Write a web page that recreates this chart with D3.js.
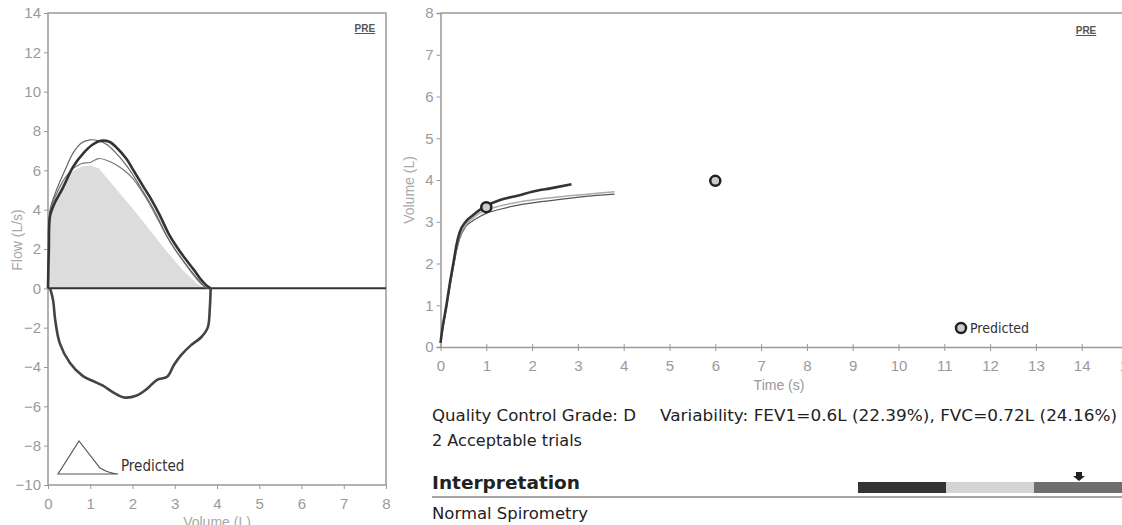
<!DOCTYPE html>
<html>
<head>
<meta charset="utf-8">
<script src="https://cdn.jsdelivr.net/npm/d3@7/dist/d3.min.js"></script>
<style>
  body { margin: 0; background: #fff; }
  svg { display: block; }
  .tick text { font-family: "Liberation Sans Narrow", "Liberation Sans", Arial, sans-serif; font-size: 15px; fill: #9a9a9a; }
  .tick line { stroke: #999; }
  .domain { stroke: #999; }
  .info { font-family: "DejaVu Sans", sans-serif; fill: #222; }
</style>
</head>
<body>
<div id="chart"></div>
<script>
// ---- flow / volume loop, [volume L, flow L/s] ----
var loopBest = [[0,0],[0.02,2],[0.05,3.7],[0.15,4.3],[0.35,5.1],[0.6,6.2],[0.85,6.9],[1.05,7.3],[1.25,7.5],[1.45,7.45],[1.65,7.1],[1.85,6.6],[2.05,5.9],[2.25,5.2],[2.45,4.5],[2.65,3.7],[2.85,2.8],[3.05,2.1],[3.25,1.5],[3.45,0.95],[3.6,0.5],[3.75,0.15],[3.85,0]];
var loopTrial2 = [[0,0],[0.02,2.5],[0.05,4.0],[0.2,5.0],[0.4,6.0],[0.6,6.9],[0.8,7.4],[1.0,7.55],[1.2,7.5],[1.4,7.3],[1.6,6.9],[1.8,6.4],[2.0,5.8],[2.2,5.1],[2.4,4.4],[2.6,3.6],[2.8,2.7],[3.0,2.0],[3.2,1.4],[3.4,0.85],[3.55,0.45],[3.7,0.1],[3.75,0]];
var loopTrial3 = [[0,0],[0.02,2.5],[0.05,3.9],[0.2,4.8],[0.4,5.6],[0.6,6.1],[0.8,6.35],[1.0,6.4],[1.2,6.6],[1.4,6.5],[1.6,6.3],[1.8,6.0],[2.0,5.6],[2.2,5.0],[2.4,4.3],[2.6,3.5],[2.8,2.7],[3.0,2.0],[3.2,1.4],[3.4,0.8],[3.55,0.4],[3.7,0.1],[3.8,0]];
var loopPredicted = [[0,0],[0.02,3],[0.1,4.2],[0.3,5.2],[0.55,5.9],[0.8,6.2],[1.0,6.25],[1.2,6.1],[2.1,3.8],[2.8,1.9],[3.2,0.9],[3.5,0.3],[3.7,0]];
var loopInsp = [[3.85,0],[3.83,-1.0],[3.78,-2.0],[3.62,-2.5],[3.38,-2.9],[3.15,-3.4],[2.98,-3.9],[2.82,-4.5],[2.58,-4.65],[2.35,-5.1],[2.1,-5.45],[1.8,-5.55],[1.55,-5.3],[1.3,-4.95],[1.05,-4.7],[0.82,-4.45],[0.52,-3.8],[0.28,-2.8],[0.17,-1.6],[0.12,-0.6],[0.05,0]];
var flowTicks = [-10,-8,-6,-4,-2,0,2,4,6,8,10,12,14];
var volTicks = [0,1,2,3,4,5,6,7,8];

// ---- volume / time, [time s, volume L] ----
var timeBest = [[0,0.1],[0.05,0.5],[0.13,1.0],[0.2,1.5],[0.28,2.0],[0.35,2.45],[0.42,2.75],[0.55,3.0],[0.7,3.15],[0.85,3.28],[1.0,3.38],[1.3,3.52],[1.7,3.63],[2.0,3.72],[2.4,3.8],[2.86,3.9]];
var timeTrial2 = [[0,0.1],[0.05,0.45],[0.13,0.95],[0.2,1.45],[0.28,1.95],[0.35,2.35],[0.42,2.65],[0.55,2.92],[0.7,3.08],[0.85,3.2],[1.0,3.28],[1.3,3.38],[1.7,3.47],[2.2,3.55],[2.8,3.62],[3.3,3.67],[3.8,3.72]];
var timeTrial3 = [[0,0.1],[0.05,0.45],[0.13,0.95],[0.2,1.4],[0.28,1.9],[0.35,2.3],[0.42,2.6],[0.55,2.88],[0.7,3.02],[0.85,3.12],[1.0,3.2],[1.3,3.3],[1.7,3.4],[2.2,3.48],[2.8,3.56],[3.3,3.62],[3.8,3.66]];
var predictedPoints = [[1,3.35],[6,3.98]];
var timeTicks = [0,1,2,3,4,5,6,7,8,9,10,11,12,13,14,15];
var volumeTicks = [0,1,2,3,4,5,6,7,8];

var infoLine1 = "Quality Control Grade: D";
var infoLine1b = "Variability: FEV1=0.6L (22.39%), FVC=0.72L (24.16%)";
var infoLine2 = "2 Acceptable trials";
var interpTitle = "Interpretation";
var interpText = "Normal Spirometry";

var svg = d3.select("#chart").append("svg").attr("width", 1122).attr("height", 525);

// ================= left: flow-volume =================
var lx = d3.scaleLinear().domain([0, 8]).range([48, 386]);
var ly = d3.scaleLinear().domain([-10, 14]).range([485, 13]);
var line1 = d3.line().x(d => lx(d[0])).y(d => ly(d[1]));

svg.append("rect").attr("x", lx(0)).attr("y", ly(14))
    .attr("width", lx(8) - lx(0)).attr("height", ly(-10) - ly(14))
    .attr("fill", "none").attr("stroke", "#999").attr("stroke-width", 1.5);

svg.append("g").attr("transform", "translate(" + lx(0) + ",0)")
    .call(d3.axisLeft(ly).tickValues(flowTicks).tickSize(4).tickPadding(3))
    .call(g => g.select(".domain").remove());
svg.append("g").attr("transform", "translate(0," + ly(-10) + ")")
    .call(d3.axisBottom(lx).tickValues(volTicks).tickSizeInner(4).tickSizeOuter(0).tickPadding(9))
    .call(g => g.select(".domain").remove());

svg.append("path").datum(loopPredicted).attr("d", line1)
    .attr("fill", "#dcdcdc").attr("stroke", "none");

svg.append("line").attr("x1", lx(0)).attr("x2", lx(8)).attr("y1", ly(0)).attr("y2", ly(0))
    .attr("stroke", "#333").attr("stroke-width", 2);

svg.append("path").datum(loopTrial3).attr("d", line1.curve(d3.curveCatmullRom))
    .attr("fill", "none").attr("stroke", "#777").attr("stroke-width", 1.2);
svg.append("path").datum(loopTrial2).attr("d", line1)
    .attr("fill", "none").attr("stroke", "#666").attr("stroke-width", 1.2);
svg.append("path").datum(loopBest).attr("d", line1)
    .attr("fill", "none").attr("stroke", "#333").attr("stroke-width", 2.6);
svg.append("path").datum(loopInsp).attr("d", line1)
    .attr("fill", "none").attr("stroke", "#444").attr("stroke-width", 2.6);

svg.append("text").attr("x", lx(7.5)).attr("y", 32).attr("text-anchor", "middle")
    .attr("font-family", "Liberation Sans, sans-serif").attr("font-size", 10).attr("font-weight", "bold")
    .attr("fill", "#555").attr("text-decoration", "underline").text("PRE");

svg.append("text").attr("transform", "translate(22,240) rotate(-90)").attr("text-anchor", "middle")
    .attr("font-family", "Liberation Sans, sans-serif").attr("font-size", 14).attr("fill", "#a8a8a8")
    .text("Flow (L/s)");
svg.append("text").attr("x", 217).attr("y", 527).attr("text-anchor", "middle")
    .attr("font-family", "Liberation Sans, sans-serif").attr("font-size", 14).attr("fill", "#a8a8a8")
    .text("Volume (L)");

// legend glyph for predicted loop
var lg = svg.append("g").attr("transform", "translate(58,474)");
lg.append("path").attr("d", "M0,0 L21,-33 L42,-6 Q50,-1 60,0 Z")
    .attr("fill", "none").attr("stroke", "#555").attr("stroke-width", 1.2);
lg.append("text").attr("x", 63).attr("y", -3).attr("font-family", "DejaVu Sans Condensed, sans-serif")
    .attr("font-size", 15).attr("fill", "#333").text("Predicted");

// ================= right: volume-time =================
var rx = d3.scaleLinear().domain([0, 15]).range([440.5, 1127.5]);
var ry = d3.scaleLinear().domain([0, 8]).range([347, 13]);
var line2 = d3.line().x(d => rx(d[0])).y(d => ry(d[1])).curve(d3.curveMonotoneX);

svg.append("line").attr("x1", rx(0)).attr("x2", rx(15)).attr("y1", ry(8)).attr("y2", ry(8))
    .attr("stroke", "#999").attr("stroke-width", 1.5);
svg.append("g").attr("transform", "translate(" + rx(0) + ",0)")
    .call(d3.axisLeft(ry).tickValues(volumeTicks).tickSize(4).tickPadding(3))
    .call(g => g.select(".domain").attr("stroke-width", 1.5));
svg.append("g").attr("transform", "translate(0," + ry(0) + ")")
    .call(d3.axisBottom(rx).tickValues(timeTicks).tickSizeInner(4).tickSizeOuter(0).tickPadding(9))
    .call(g => g.select(".domain").attr("stroke-width", 1.5))
    .call(g => g.selectAll(".tick line").attr("y1", -3));

svg.append("path").datum(timeTrial3).attr("d", line2)
    .attr("fill", "none").attr("stroke", "#555").attr("stroke-width", 1.2);
svg.append("path").datum(timeTrial2).attr("d", line2)
    .attr("fill", "none").attr("stroke", "#aaa").attr("stroke-width", 1.5);
svg.append("path").datum(timeBest).attr("d", line2)
    .attr("fill", "none").attr("stroke", "#333").attr("stroke-width", 2.6);

svg.selectAll(".pred").data(predictedPoints).enter().append("circle").attr("class", "pred")
    .attr("cx", d => rx(d[0])).attr("cy", d => ry(d[1])).attr("r", 5)
    .attr("fill", "#ccc").attr("stroke", "#222").attr("stroke-width", 2.5);

svg.append("text").attr("x", 1086).attr("y", 34).attr("text-anchor", "middle")
    .attr("font-family", "Liberation Sans, sans-serif").attr("font-size", 10).attr("font-weight", "bold")
    .attr("fill", "#555").attr("text-decoration", "underline").text("PRE");

svg.append("text").attr("transform", "translate(414,190) rotate(-90)").attr("text-anchor", "middle")
    .attr("font-family", "Liberation Sans, sans-serif").attr("font-size", 14).attr("fill", "#a8a8a8")
    .text("Volume (L)");
svg.append("text").attr("x", 779).attr("y", 390).attr("text-anchor", "middle")
    .attr("font-family", "Liberation Sans Narrow, Liberation Sans, sans-serif").attr("font-size", 14).attr("fill", "#999")
    .text("Time (s)");

var rl = svg.append("g").attr("transform", "translate(961,328)");
rl.append("circle").attr("r", 5).attr("fill", "#ccc").attr("stroke", "#222").attr("stroke-width", 2.5);
rl.append("text").attr("x", 9).attr("y", 5).attr("font-family", "DejaVu Sans Condensed, sans-serif")
    .attr("font-size", 14).attr("fill", "#333").text("Predicted");

// ================= text block =================
svg.append("text").attr("class", "info").attr("x", 432).attr("y", 421).attr("font-size", 16)
    .attr("textLength", 204).attr("lengthAdjust", "spacingAndGlyphs").text(infoLine1);
svg.append("text").attr("class", "info").attr("x", 660).attr("y", 421).attr("font-size", 16)
    .attr("textLength", 457).attr("lengthAdjust", "spacingAndGlyphs").text(infoLine1b);
svg.append("text").attr("class", "info").attr("x", 432).attr("y", 446).attr("font-size", 16)
    .attr("textLength", 150).attr("lengthAdjust", "spacingAndGlyphs").text(infoLine2);
svg.append("text").attr("class", "info").attr("x", 432).attr("y", 489).attr("font-size", 18)
    .attr("font-weight", "bold").attr("textLength", 148).attr("lengthAdjust", "spacingAndGlyphs").text(interpTitle);
svg.append("line").attr("x1", 432).attr("x2", 1122).attr("y1", 497).attr("y2", 497)
    .attr("stroke", "#888").attr("stroke-width", 1.5);
svg.append("text").attr("class", "info").attr("x", 432).attr("y", 519).attr("font-size", 16)
    .attr("textLength", 156).attr("lengthAdjust", "spacingAndGlyphs").text(interpText);

// severity bar
var barColors = ["#333", "#d4d4d4", "#6e6e6e"];
var bx = d3.scaleBand().domain(d3.range(barColors.length)).range([858, 1122]).padding(0);
svg.selectAll(".sev").data(barColors).enter().append("rect").attr("class", "sev")
    .attr("x", (d, i) => bx(i)).attr("y", 482).attr("width", bx.bandwidth()).attr("height", 11)
    .attr("fill", d => d);
svg.append("path").attr("d", "M1076,472 L1082,472 L1082,476 L1085,476 L1079,481 L1073,476 L1076,476 Z")
    .attr("fill", "#222");
</script>
</body>
</html>
